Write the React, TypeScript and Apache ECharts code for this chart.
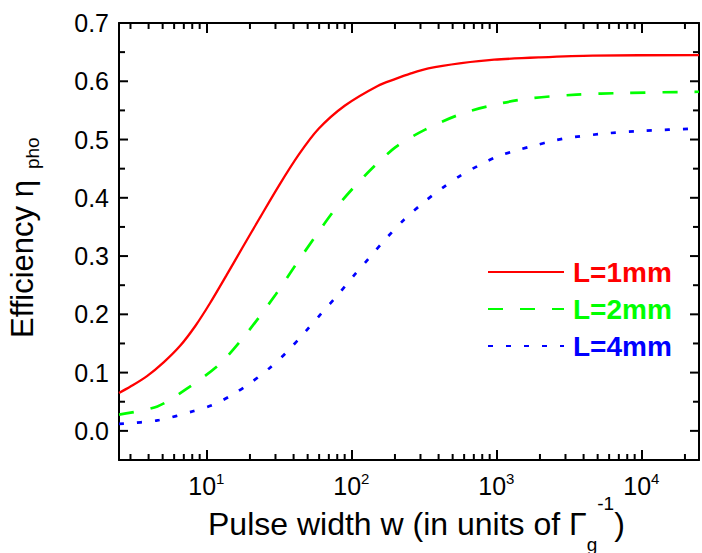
import React, { useEffect, useRef } from 'react';
import * as echarts from 'echarts';

const FONT = '"Liberation Sans", Arial, Helvetica, sans-serif';

// Series data (w in units of Γg^-1, efficiency)
const seriesNames = ['L=1mm', 'L=2mm', 'L=4mm'];
const seriesColors = ['#ff0000', '#00ff00', '#0000ff'];

const wRed = [2.5, 3.0, 3.9, 5.1, 6.6, 8.4, 10.6, 13.7, 17.9, 23.2, 31.7, 43.4, 59.3, 90, 152, 202, 255, 340, 574, 966, 2000, 4620, 25000];
const etaRed = [0.065, 0.076, 0.094, 0.118, 0.146, 0.180, 0.219, 0.266, 0.316, 0.364, 0.421, 0.474, 0.518, 0.558, 0.592, 0.604, 0.613, 0.622, 0.631, 0.637, 0.641, 0.644, 0.645];

const wGreen = [2.5, 4.6, 7.3, 12.4, 18.8, 30.1, 40.1, 56.2, 81.1, 123, 202, 323, 545, 871, 1630, 3560, 7800, 25000];
const etaGreen = [0.028, 0.042, 0.072, 0.115, 0.166, 0.234, 0.280, 0.333, 0.387, 0.437, 0.487, 0.517, 0.542, 0.557, 0.570, 0.577, 0.580, 0.582];

const wBlue = [2.5, 4.6, 8.2, 11.2, 14.9, 19.8, 27.1, 36.1, 48.1, 62.4, 81.1, 103, 133, 175, 230, 315, 420, 574, 764, 1020, 1360, 1860, 2470, 3380, 6000, 10600, 25000];
const etaBlue = [0.012, 0.018, 0.034, 0.045, 0.061, 0.081, 0.107, 0.136, 0.170, 0.202, 0.234, 0.265, 0.297, 0.331, 0.362, 0.392, 0.416, 0.439, 0.456, 0.471, 0.481, 0.490, 0.498, 0.504, 0.511, 0.515, 0.519];

// Axis ranges and tick values
const xMin = 2.5;
const xMax = 25000;
const yMin = -0.05;
const yMax = 0.7;
const yMajorTicks = [0, 0.1, 0.2, 0.3, 0.4, 0.5, 0.6, 0.7];
const yMinorTicks = [0.05, 0.15, 0.25, 0.35, 0.45, 0.55, 0.65];
const xMinorMultipliers = [2, 3, 4, 5, 6, 7, 8, 9];
const xDecades = [1, 10, 100, 1000, 10000];

const lineTypes: any[] = ['solid', [15, 17], [5, 13]];
const lineWidths = [2.3, 2.7, 2.7];

export default function App() {
  const ref = useRef<HTMLDivElement>(null);

  useEffect(() => {
    document.body.style.margin = '0';
    if (!ref.current) return;
    const chart = echarts.init(ref.current, undefined, { renderer: 'svg' });

    const xMinor: number[] = [];
    xDecades.forEach((d) => {
      xMinorMultipliers.forEach((m) => {
        const v = d * m;
        if (v > xMin && v < xMax) xMinor.push(v);
      });
    });

    const tickData: number[][] = [];
    xMinor.forEach((v) => tickData.push([v, 0, 0]));
    yMajorTicks.forEach((v) => tickData.push([10, v, 1]));
    yMinorTicks.forEach((v) => tickData.push([10, v, 2]));

    const wArr = [wRed, wGreen, wBlue];
    const etaArr = [etaRed, etaGreen, etaBlue];

    const lineSeries = seriesNames.map((name, i) => ({
      type: 'line',
      name,
      data: wArr[i].map((w, j) => [w, etaArr[i][j]]),
      showSymbol: false,
      symbol: 'none',
      smooth: 0.3,
      silent: true,
      xAxisIndex: 0,
      yAxisIndex: 0,
      itemStyle: { color: seriesColors[i] },
      lineStyle: { color: seriesColors[i], width: lineWidths[i], type: lineTypes[i] },
      z: 3,
    }));

    const axisLineStyle = { color: '#000', width: 2 };

    const isPow10 = (v: number) => {
      const l = Math.log10(v);
      return Math.abs(l - Math.round(l)) < 1e-6;
    };

    const option: any = {
      animation: false,
      grid: { left: 119, top: 23, width: 588, height: 437 },
      xAxis: [
        {
          type: 'log',
          logBase: 10,
          min: xMin,
          max: xMax,
          position: 'bottom',
          axisLine: { show: true, onZero: false, lineStyle: axisLineStyle },
          axisTick: { show: true, inside: true, length: 10, lineStyle: axisLineStyle },
          splitLine: { show: false },
          axisLabel: {
            margin: 11,
            formatter: (v: number) => {
              if (!isPow10(v)) return '';
              return '{b|10}{s|' + Math.round(Math.log10(v)) + '}';
            },
            rich: {
              b: { fontSize: 25, lineHeight: 30, fontFamily: FONT, color: '#000' },
              s: { fontSize: 15, lineHeight: 16, verticalAlign: 'top', fontFamily: FONT, color: '#000' },
            },
          },
        },
        {
          type: 'log',
          logBase: 10,
          min: xMin,
          max: xMax,
          position: 'top',
          axisLine: { show: true, onZero: false, lineStyle: axisLineStyle },
          axisTick: { show: true, inside: true, length: 10, lineStyle: axisLineStyle },
          splitLine: { show: false },
          axisLabel: { show: false },
        },
      ],
      yAxis: [
        {
          type: 'value',
          min: yMin,
          max: yMax,
          interval: 0.05,
          position: 'left',
          axisLine: { show: true, onZero: false, lineStyle: axisLineStyle },
          axisTick: { show: false },
          splitLine: { show: false },
          axisLabel: {
            margin: 10,
            fontSize: 25,
            fontFamily: FONT,
            color: '#000',
            formatter: (v: number) => {
              if (v < -1e-9) return '';
              const t = v * 10;
              if (Math.abs(t - Math.round(t)) > 1e-6) return '';
              return v.toFixed(1);
            },
          },
        },
        {
          type: 'value',
          min: yMin,
          max: yMax,
          interval: 0.05,
          position: 'right',
          axisLine: { show: true, onZero: false, lineStyle: axisLineStyle },
          axisTick: { show: false },
          splitLine: { show: false },
          axisLabel: { show: false },
        },
      ],
      legend: {
        orient: 'vertical',
        left: 487,
        top: 258,
        padding: 0,
        itemWidth: 76,
        itemHeight: 28,
        itemGap: 9,
        selectedMode: false,
        itemStyle: { opacity: 0 },
        textStyle: { fontSize: 28, fontWeight: 'bold', fontFamily: FONT, lineHeight: 28, padding: [0, 0, 0, 4] },
        data: seriesNames.map((n, i) => ({ name: n, textStyle: { color: seriesColors[i] } })),
      },
      graphic: [
        {
          type: 'text',
          x: 208,
          y: 494,
          silent: true,
          style: {
            text: '{m|Pulse width w (in units of Γ}{sub|g}{sup|-1}{m|)}',
            textAlign: 'left',
            textVerticalAlign: 'top',
            fill: '#000',
            rich: {
              m: { fontSize: 32, lineHeight: 60, fontFamily: FONT, fill: '#000' },
              sub: { fontSize: 19, lineHeight: 13, verticalAlign: 'bottom', fontFamily: FONT, fill: '#000' },
              sup: { fontSize: 19, lineHeight: 46, verticalAlign: 'top', fontFamily: FONT, fill: '#000' },
            },
          },
        },
        {
          type: 'text',
          x: 2,
          y: 338,
          rotation: Math.PI / 2,
          silent: true,
          style: {
            text: '{m|Efficiency η}{sub|pho}',
            textAlign: 'left',
            textVerticalAlign: 'top',
            fill: '#000',
            rich: {
              m: { fontSize: 31, lineHeight: 40, fontFamily: FONT, fill: '#000' },
              sub: { fontSize: 19, lineHeight: 10, verticalAlign: 'bottom', padding: [0, 0, 0, 11], fontFamily: FONT, fill: '#000' },
            },
          },
        },
      ],
      series: [
        ...lineSeries,
        {
          type: 'custom',
          xAxisIndex: 0,
          yAxisIndex: 0,
          silent: true,
          z: 5,
          data: tickData,
          encode: { x: 0, y: 1 },
          renderItem: (params: any, api: any) => {
            const cs = params.coordSys;
            const kind = api.value(2);
            const st = { stroke: '#000', lineWidth: 2 };
            if (kind === 0) {
              const px = api.coord([api.value(0), 0])[0];
              const b = cs.y + cs.height;
              const t = cs.y;
              return {
                type: 'group',
                children: [
                  { type: 'line', shape: { x1: px, y1: b, x2: px, y2: b - 6 }, style: st },
                  { type: 'line', shape: { x1: px, y1: t, x2: px, y2: t + 6 }, style: st },
                ],
              };
            }
            const py = api.coord([10, api.value(1)])[1];
            const len = kind === 1 ? 9 : 6;
            const l = cs.x;
            const r = cs.x + cs.width;
            return {
              type: 'group',
              children: [
                { type: 'line', shape: { x1: l, y1: py, x2: l + len, y2: py }, style: st },
                { type: 'line', shape: { x1: r, y1: py, x2: r - len, y2: py }, style: st },
              ],
            };
          },
        },
      ],
    };

    chart.setOption(option);
    return () => {
      chart.dispose();
    };
  }, []);

  return <div ref={ref} style={{ width: 702, height: 553 }} />;
}
